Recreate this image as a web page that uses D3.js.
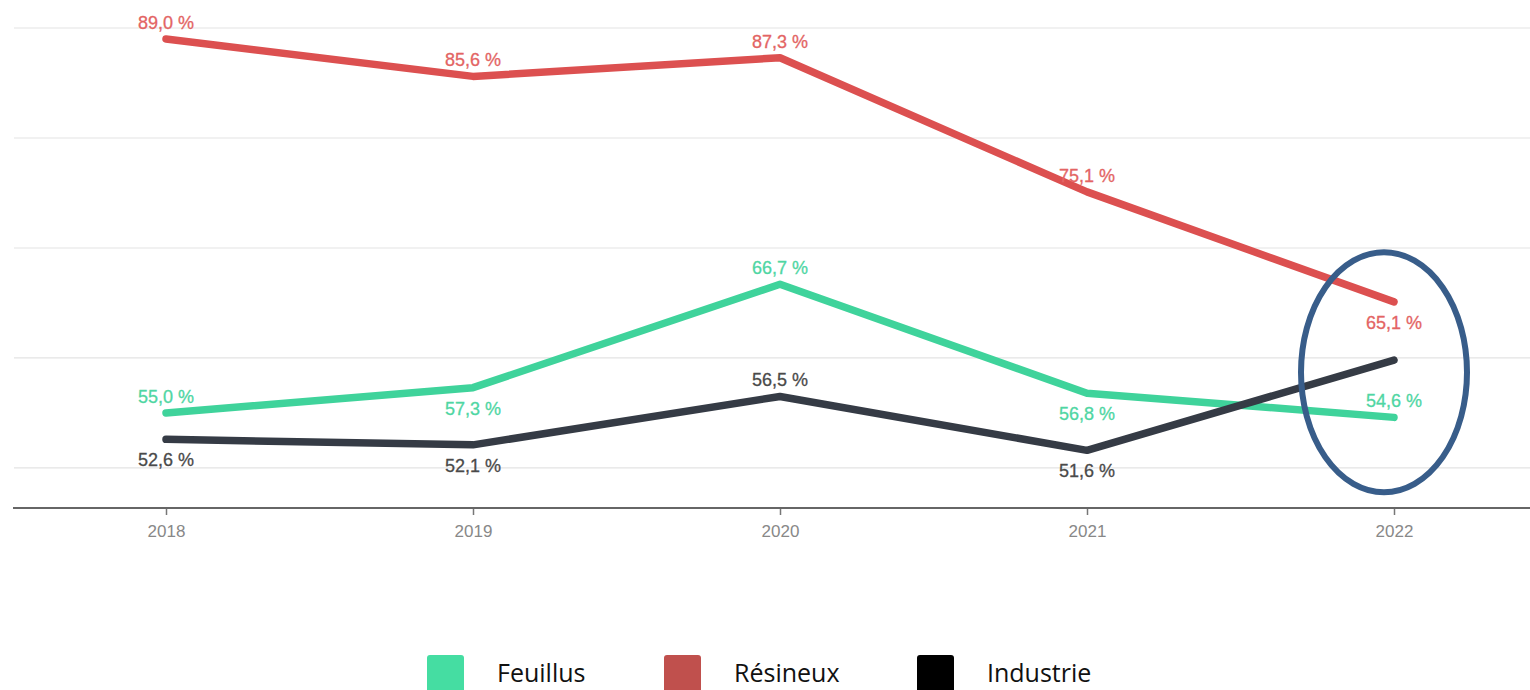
<!DOCTYPE html>
<html>
<head>
<meta charset="utf-8">
<script src="https://cdn.jsdelivr.net/npm/d3@7"></script>
<style>
  html, body { margin: 0; padding: 0; background: #fff; }
  svg { display: block; }
</style>
</head>
<body>
<svg id="chart" width="1530" height="690"></svg>
<script>
// ---- Data ----
const years = ["2018", "2019", "2020", "2021", "2022"];
const feuillus = [55.0, 57.3, 66.7, 56.8, 54.6];
const resineux = [89.0, 85.6, 87.3, 75.1, 65.1];
const industrie = [52.6, 52.1, 56.5, 51.6, 59.8];
const gridValues = [50, 60, 70, 80, 90];
// label placement: "a" = above, "b" = below, null = no label
const feuillusLabelPos = ["a", "b", "a", "b", "a"];
const resineuxLabelPos = ["a", "a", "a", "a", "b"];
const industrieLabelPos = ["b", "b", "a", "b", null];
const legendNames = ["Feuillus", "Résineux", "Industrie"];
const highlightYear = "2022";
const highlightValue = 58.7;

const seriesDefs = [
  { name: "Feuillus", values: feuillus, pos: feuillusLabelPos, line: "#3fd39b", label: "#4fd6a3", legend: "#45dda2" },
  { name: "Résineux", values: resineux, pos: resineuxLabelPos, line: "#dc5050", label: "#e36464", legend: "#c0504d" },
  { name: "Industrie", values: industrie, pos: industrieLabelPos, line: "#353b45", label: "#4a4a4a", legend: "#000000" }
];

const svg = d3.select("#chart");

const x = d3.scalePoint().domain(years).range([166, 1394]);
const y = d3.scaleLinear().domain([46.36, 90]).range([508, 28]);

// gridlines
svg.append("g").selectAll("line").data(gridValues).join("line")
  .attr("x1", 14).attr("x2", 1530)
  .attr("y1", d => y(d)).attr("y2", d => y(d))
  .attr("stroke", "#e3e3e3").attr("stroke-width", 1.2);

// x axis
const xAxis = d3.axisBottom(x).tickSize(7).tickPadding(10).tickSizeOuter(0);
const gx = svg.append("g").attr("transform", `translate(0,${y(46.36)})`).call(xAxis);
gx.select(".domain").remove();
gx.append("line").attr("x1", 13).attr("x2", 1530).attr("y1", 0).attr("y2", 0)
  .attr("stroke", "#666").attr("stroke-width", 1.8);
gx.selectAll(".tick line").attr("stroke", "#777").attr("stroke-width", 1.5);
gx.selectAll(".tick text")
  .attr("fill", "#888")
  .style("font-family", "'Liberation Sans', Arial, sans-serif")
  .style("font-size", "17px");

// lines
const lineGen = d3.line().x((d, i) => x(years[i])).y(d => y(d));
seriesDefs.forEach(s => {
  svg.append("path")
    .datum(s.values)
    .attr("d", lineGen)
    .attr("fill", "none")
    .attr("stroke", s.line)
    .attr("stroke-width", 7.5)
    .attr("stroke-linejoin", "round")
    .attr("stroke-linecap", "round");
});

// data labels
seriesDefs.forEach(s => {
  svg.append("g").selectAll("text")
    .data(s.values.map((v, i) => ({ v, i, p: s.pos[i] })).filter(d => d.p))
    .join("text")
    .attr("x", d => x(years[d.i]))
    .attr("y", d => d.p === "a" ? y(d.v) - 10 : y(d.v) + 27)
    .attr("text-anchor", "middle")
    .attr("fill", s.label)
    .attr("stroke", s.label)
    .attr("stroke-width", 0.3)
    .style("font-family", "'Liberation Sans', Arial, sans-serif")
    .style("font-size", "18px")
    .text(d => d3.format(".1f")(d.v).replace(".", ",") + " %");
});

// highlight ellipse
svg.append("ellipse")
  .attr("cx", x(highlightYear) - 10)
  .attr("cy", y(highlightValue))
  .attr("rx", 83)
  .attr("ry", 120)
  .attr("fill", "none")
  .attr("stroke", "#385d8a")
  .attr("stroke-width", 6);

// legend
const lg = svg.append("g").selectAll("g").data(seriesDefs).join("g")
  .attr("transform", (d, i) => `translate(${[427, 664, 917][i]},655)`);
lg.append("rect").attr("width", 37).attr("height", 45).attr("rx", 3)
  .attr("fill", d => d.legend);
lg.append("text").attr("x", 70).attr("y", 27)
  .attr("fill", "#111")
  .style("font-family", "'Open Sans', sans-serif")
  .style("font-size", "25px")
  .text(d => d.name);
</script>
</body>
</html>
